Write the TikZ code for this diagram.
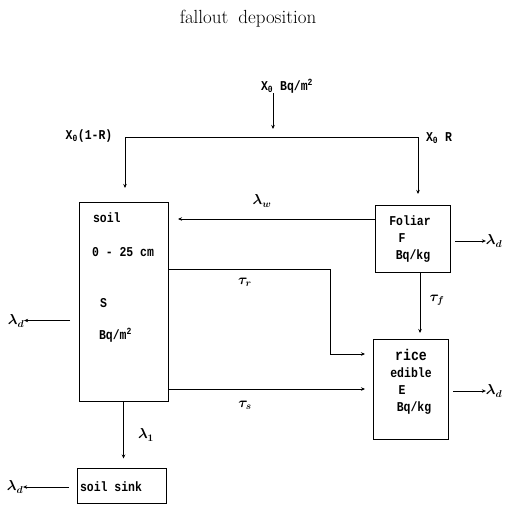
\documentclass[tikz,border=0pt]{standalone}
\usepackage{fontspec}
\setmonofont[FakeStretch=0.85]{Liberation Mono}
\usetikzlibrary{arrows.meta}
\begin{document}
\begin{tikzpicture}[x=1pt,y=-1pt,
  every node/.style={inner sep=0pt, outer sep=0pt},
  lbl/.style={font=\ttfamily\bfseries\fontsize{13.5}{15}\selectfont},
  sym/.style={font=\fontsize{14}{16}\selectfont\boldmath},
  box/.style={draw, line width=1pt, minimum width=#1},
  arr/.style={line width=0.9pt, -{Stealth[length=4pt,width=3.5pt]}},
  ln/.style={line width=0.9pt}]
\useasboundingbox (0,0) rectangle (508,504);
% title
\node[font=\fontsize{19}{21}\selectfont] (title) at (248,19) {fallout\hspace{10pt}deposition};
% boxes
\node[box=89pt, minimum height=199pt] (soil) at (123.5,301.5) {};
\node[box=75pt, minimum height=67pt] (foliar) at (412.5,238.5) {};
\node[box=75pt, minimum height=100pt] (rice) at (410.5,389) {};
\node[box=89pt, minimum height=35pt] (sink) at (121.5,486) {};
% box texts
\node[lbl, anchor=west] (t1) at (93,218) {soil};
\node[lbl, anchor=west] (t2) at (92,252) {0 - 25 cm};
\node[lbl, anchor=west] (t3) at (100,303) {S};
\node[lbl, anchor=west] (t4) at (99,335) {Bq/m\textsuperscript{2}};
\node[lbl] (f1) at (410,221) {Foliar};
\node[lbl] (f2) at (402,238) {F};
\node[lbl] (f3) at (413,256) {Bq/kg};
\node[lbl, font=\ttfamily\bfseries\fontsize{15.5}{17}\selectfont] (r1) at (411,355) {rice};
\node[lbl] (r2) at (411,373) {edible};
\node[lbl] (r3) at (402,390) {E};
\node[lbl] (r4) at (414,408) {Bq/kg};
\node[lbl, anchor=west] (s1) at (80,487) {soil sink};
% top input
\node[lbl] (x0) at (287,86) {X\textsubscript{0} Bq/m\textsuperscript{2}};
\node[lbl] (x1r) at (89,136) {X\textsubscript{0}(1-R)};
\node[lbl] (x0r) at (439,138) {X\textsubscript{0} R};
\coordinate (tl) at (125,137);
\coordinate (tm) at (273,137);
\coordinate (tr) at (418,137);
\draw[arr, shorten >=8pt] (x0.south -| tm) -- (tm);
\draw[ln] (tl) -- (tr);
\draw[arr, shorten >=14pt] (tl) -- (soil.north -| tl);
\draw[arr, shorten >=11pt] (tr) -- (foliar.north -| tr);
% foliar -> soil
\draw[arr, shorten >=10pt] ([yshift=-14pt]foliar.north west) -- ([yshift=-14pt]foliar.north west -| soil.east);
\node[sym] (lw) at (262,201) {$\lambda_w$};
% foliar -> out
\node[sym] (ld1) at (494,241) {$\lambda_d$};
\draw[arr] ([xshift=5pt,yshift=-2.5pt]foliar.east) -- (ld1.west |- 0,241);
% foliar -> rice
\draw[arr, shorten >=6pt] ([xshift=7.5pt]foliar.south) -- ([xshift=7.5pt]foliar.south |- rice.north);
\node[sym] (tf) at (437,300) {$\tau_f$};
% soil -> rice (upper)
\coordinate (bendc) at (330,354);
\draw[arr, shorten >=8pt] ([yshift=-67pt]soil.north east) -| (bendc) -- (rice.west |- bendc);
\node[sym] (tr1) at (245,282) {$\tau_r$};
% soil -> rice (lower)
\draw[arr, shorten >=8pt] (soil.east |- rice.west) -- (rice.west);
\node[sym] (ts) at (245,405) {$\tau_s$};
% rice -> out
\node[sym] (ld2) at (494,391) {$\lambda_d$};
\draw[arr] ([xshift=5pt,yshift=-2pt]rice.east) -- (ld2.west |- 0,391);
% soil -> sink
\draw[arr, shorten >=10pt] (soil.south) -- (soil.south |- sink.north);
\node[sym] (l1) at (146,435) {$\lambda_1$};
% soil -> out
\node[sym] (ld3) at (16,321) {$\lambda_d$};
\draw[arr] ([xshift=-9pt,yshift=-19pt]soil.west) -- (ld3.east |- 0,320.5);
% sink -> out
\node[sym] (ld4) at (15,487) {$\lambda_d$};
\draw[arr] ([xshift=-8pt,yshift=-1pt]sink.west) -- (ld4.east |- 0,487);
\end{tikzpicture}
\end{document}
